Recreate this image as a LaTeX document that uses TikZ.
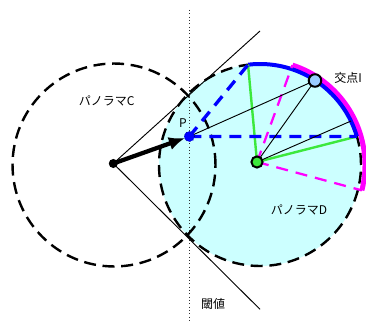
\documentclass[tikz,border=0pt]{standalone}
\usepackage{fontspec}
\setmainfont{Noto Sans CJK JP}
\usetikzlibrary{arrows.meta}
\definecolor{dfill}{RGB}{204,255,255}
\definecolor{gline}{RGB}{60,232,60}
\definecolor{mag}{RGB}{255,0,255}
\definecolor{bl}{RGB}{0,0,255}
\definecolor{idot}{RGB}{153,204,255}
\tikzset{
  circdash/.style={line width=1.8pt, dash pattern=on 9pt off 5pt},
  thinline/.style={line width=0.7pt, black},
  bluedash/.style={line width=2.5pt, bl, dash pattern=on 9pt off 6pt},
  magdash/.style={line width=1.7pt, mag, dash pattern=on 9pt off 6pt},
  greenline/.style={line width=1.8pt, gline},
  lbl/.style={font=\fontsize{9pt}{10pt}\selectfont, inner sep=0pt},
}
\begin{document}
\begin{tikzpicture}[x=0.75pt, y=0.75pt]
\useasboundingbox (0,0) rectangle (366,323);
\fill[white] (0,0) rectangle (366,323);
% centres
\coordinate (Cc) at (114,158);
\coordinate (Dc) at (260,158);
\coordinate (Cdot) at (113.3,159.5);
\coordinate (G) at (257,161);
\coordinate (P) at (189.3,186.5);
\coordinate (I) at (315,242.5);
\coordinate (Tu) at (260,292);
\coordinate (Tl) at (260,13.7);
\coordinate (Vt) at (189,313);
\coordinate (Vb) at (189,0);
\path (Dc) ++(96.8:75.75pt) coordinate (B1);
\path (Dc) ++(16.4:75.75pt) coordinate (B2);
\path (Dc) ++(25.8:75.75pt) coordinate (K);
\path (Dc) ++(72:78.75pt) coordinate (M1);
\path (Dc) ++(-14:78.75pt) coordinate (M2);
% fill of panorama D
\fill[dfill] (Dc) circle[radius=75.75pt];
% threshold line
\draw[line width=0.5pt, black!80, dotted] (Vt) -- (Vb);
% tangent lines
\draw[thinline] (Cdot) -- (Tu);
\draw[thinline] (Cdot) -- (Tl);
% dashed circles
\draw[circdash] (Cc) circle[radius=76.1pt];
\draw[circdash] (Dc) circle[radius=75.75pt];
% arcs
\draw[mag, line width=3.75pt] (M1) arc[start angle=72, end angle=-14, radius=78.75pt];
\draw[bl, line width=3pt] (B1) arc[start angle=96.8, end angle=16.4, radius=75.75pt];
% lines
\draw[greenline] (G) -- (B1);
\draw[greenline] (G) -- (B2);
\draw[magdash] (G) -- (M1);
\draw[magdash] (G) -- (M2);
\draw[bluedash] (P) -- (B1);
\draw[bluedash] (P) -- (B2);
\draw[thinline] (P) -- (I);
\draw[thinline] (G) -- (I);
\draw[thinline] (G) -- (K);
% arrow
\draw[line width=3.2pt, -{Latex[length=12pt, width=10pt]}, shorten >=3.5pt] (Cdot) -- (P);
% dots
\fill[black] (Cdot) circle[radius=3.4pt];
\fill[bl] (P) circle[radius=3.9pt];
\draw[blue!50!black, dotted, line width=0.6pt] (P) circle[radius=3.9pt];
\draw[fill=gline, line width=1.5pt] (G) circle[radius=4.2pt];
\draw[fill=idot, line width=1.5pt] (I) circle[radius=4.7pt];
% labels
\node[lbl] (lc) at (106.7,222) {パノラマC};
\node[lbl] (ld) at (299,113) {パノラマD};
\node[lbl] (li) at (348,245) {交点I};
\node[lbl] (lp) at (183,200) {P};
\node[lbl] (lt) at (213,19) {閾値};
\end{tikzpicture}
\end{document}
